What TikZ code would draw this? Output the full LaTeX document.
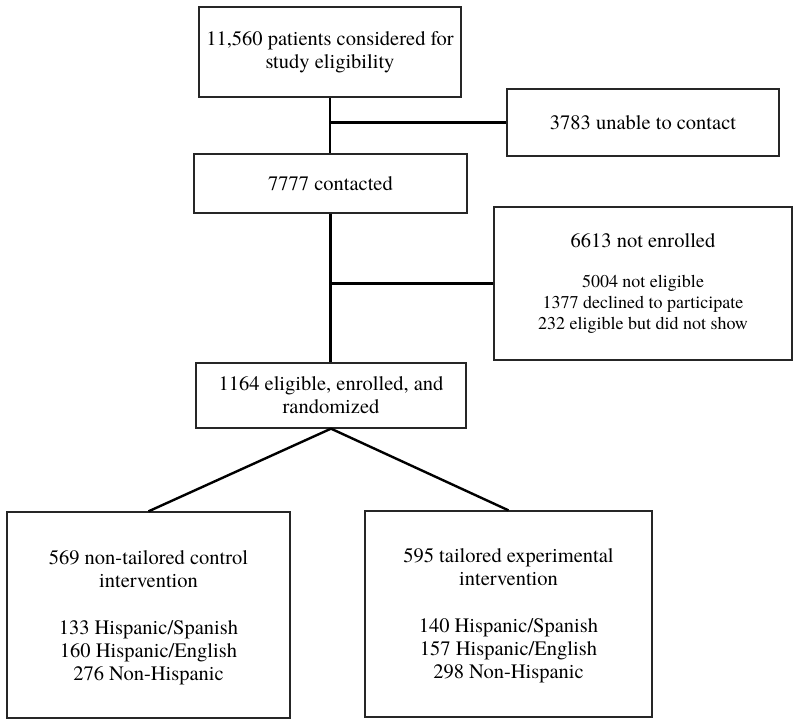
\documentclass[tikz,border=0pt]{standalone}
\usepackage{fontspec}
\setmainfont{texgyretermes-regular.otf}
\newcommand\smalltxt{\fontsize{18}{21}\selectfont}
\begin{document}
\begin{tikzpicture}[x=1pt,y=-1pt,
  box/.style={draw=black!85, line width=1.3pt, align=center, inner sep=0pt,
              font=\rmfamily\fontsize{20.5}{23}\selectfont},
  txt/.style={align=center, inner sep=0pt, font=\rmfamily\fontsize{20.5}{23}\selectfont},
  conn/.style={line width=2.4pt, black}]
\useasboundingbox (0,0) rectangle (800,726);
\fill[white] (0,0) rectangle (800,726);

\node[box, minimum width=262, minimum height=90] (b1) at (330,52)
  {11,560 patients considered for\\study eligibility};
\node[box, minimum width=272, minimum height=67] (b2) at (643,122.5)
  {3783 unable to contact};
\node[box, minimum width=273, minimum height=59] (b3) at (330.5,183.5)
  {7777 contacted};
\node[box, minimum width=298, minimum height=153] (b4) at (643,283.5)
  {6613 not enrolled\\[17pt]{\smalltxt 5004 not eligible}\\[-2pt]{\smalltxt 1377 declined to participate}\\[-2pt]{\smalltxt 232 eligible but did not show}};
\node[box, minimum width=270, minimum height=65] (b5) at (331,395.5)
  {1164 eligible, enrolled, and\\randomized};
\node[box, minimum width=283, minimum height=206] (b6) at (148.5,615) {};
\node[txt, yshift=-3pt] (t6) at (b6.center)
  {569 non-tailored control\\intervention\\[24pt]133 Hispanic/Spanish\\160 Hispanic/English\\276 Non-Hispanic};
\node[box, minimum width=287, minimum height=206] (b7) at (508.5,614) {};
\node[txt, yshift=-2pt] (t7) at (b7.center)
  {595 tailored experimental\\intervention\\[24pt]140 Hispanic/Spanish\\157 Hispanic/English\\298 Non-Hispanic};

\coordinate (j1) at (b1.south |- b2.west);
\coordinate (j2) at (b3.south |- b4.west);
\draw[conn] (b1.south) -- (b1.south |- b3.north);
\draw[conn] (j1) -- (b2.west);
\draw[conn] (b3.south) -- (b3.south |- b5.north);
\draw[conn] (j2) -- (b4.west);
\draw[conn] (b5.south) -- (b6.north);
\draw[conn] (b5.south) -- (b7.north);
\end{tikzpicture}
\end{document}
